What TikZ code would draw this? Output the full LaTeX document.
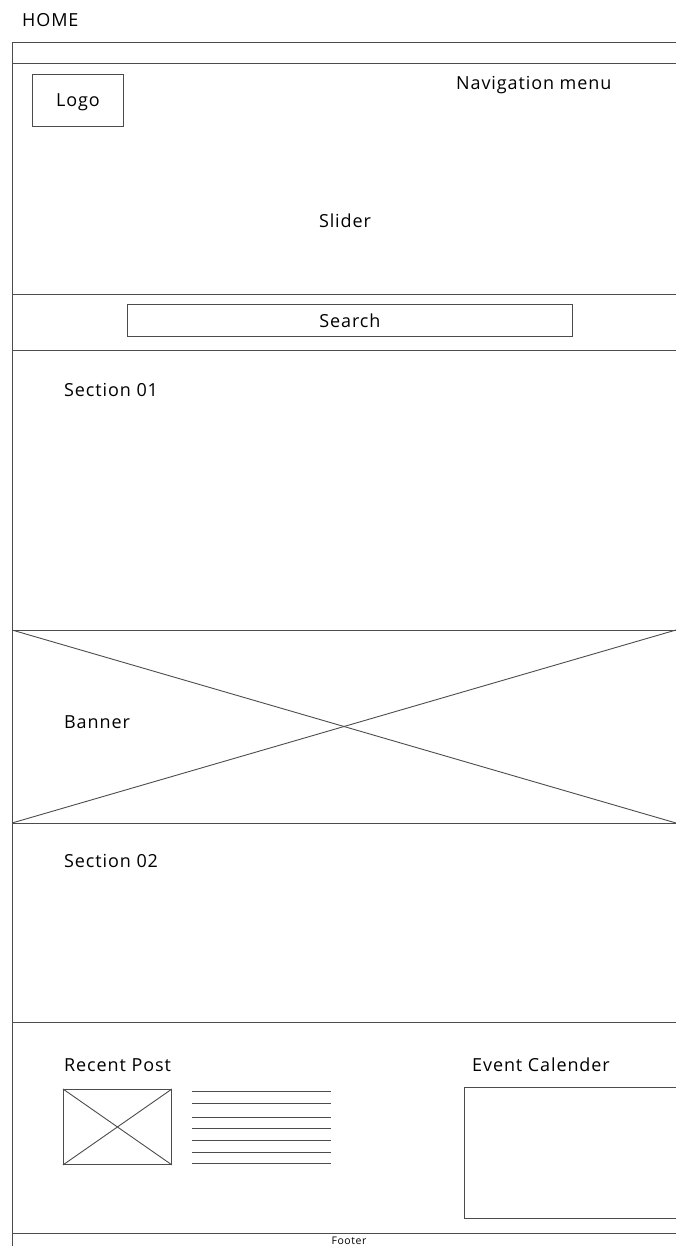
\documentclass[tikz,border=0pt]{standalone}
\usepackage{fontspec}
\setmainfont{Open Sans}[LetterSpace=5]
\usetikzlibrary{positioning}
\tikzstyle{wire} = [draw=black!70, line width=0.9pt]
\tikzstyle{label} = [font=\fontsize{18}{21}\selectfont, inner sep=0pt, anchor=base west]

\begin{document}
\begin{tikzpicture}[x=1pt, y=-1pt]
\useasboundingbox (0,0) rectangle (676,1246);
\node[label] (home) at (22,27) {HOME};
% page outline and section lines
\draw[wire] (676,42) -- (12,42) -- (12,1246);
\foreach \y in {63,294,350,630,823,1022,1233}
  \draw[wire] (12,\y) -- (676,\y);
% header
\node[wire, minimum width=91pt, minimum height=52pt, anchor=north west] (logo) at (32,74) {};
\node[label, anchor=base] at ([yshift=-6pt]logo.center) {Logo};
\node[label] (nav) at (456,90) {Navigation menu};
\node[label, anchor=base] (slider) at (345,228) {Slider};
% search bar
\node[wire, minimum width=445pt, minimum height=32pt, anchor=north west] (search) at (127,304) {};
\node[label, anchor=base] at ([yshift=-7pt]search.center) {Search};
\node[label] (sec1) at (64,396) {Section 01};
% banner
\coordinate (btl) at (12,630);
\coordinate (btr) at (676,630);
\coordinate (bbl) at (12,823);
\coordinate (bbr) at (676,823);
\draw[wire] (btl) -- (bbr);
\draw[wire] (bbl) -- (btr);
\node[label] (banner) at (64,728) {Banner};
\node[label] (sec2) at (64,867) {Section 02};
% recent post
\node[label] (recent) at (64,1071) {Recent Post};
\node[wire, minimum width=108pt, minimum height=75pt, anchor=north west] (thumb) at (63,1089) {};
\draw[wire] (thumb.north west) -- (thumb.south east);
\draw[wire] (thumb.south west) -- (thumb.north east);
\foreach \y in {1091,1103,1117,1128,1140,1152,1163}
  \draw[wire] (192,\y) -- (331,\y);
% event calendar
\node[label] (event) at (472,1071) {Event Calender};
\draw[wire] (676,1087) -- (464,1087) -- (464,1218) -- (676,1218);
\node[font=\fontsize{10.5}{12}\selectfont, inner sep=0pt, anchor=base] (footer) at (349,1244) {Footer};
\end{tikzpicture}
\end{document}
